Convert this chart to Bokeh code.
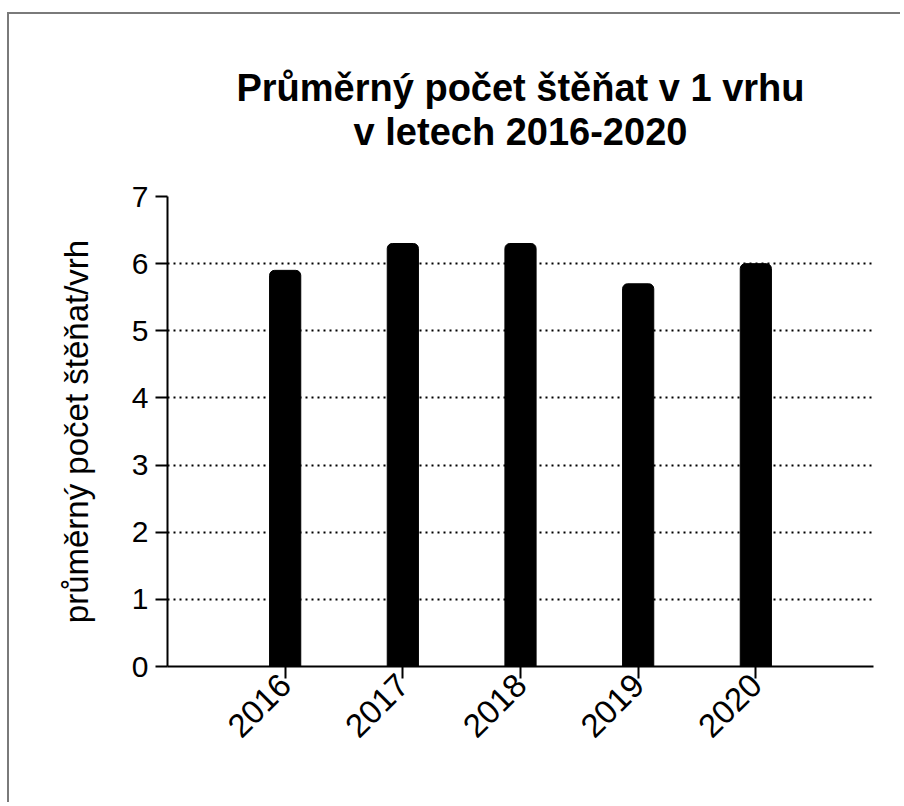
import math
from bokeh.plotting import figure
from bokeh.models import Range1d, FixedTicker, ColumnDataSource, Title
from bokeh.embed import file_html
from bokeh.resources import INLINE

years = [2016, 2017, 2018, 2019, 2020]
avg_pups = [5.9, 6.3, 6.3, 5.7, 6.0]
y_ticks = [0, 1, 2, 3, 4, 5, 6, 7]
title_line1 = "Průměrný počet štěňat v 1 vrhu"
title_line2 = "v letech 2016-2020"
y_label = "průměrný počet štěňat/vrh"

src = ColumnDataSource(data=dict(year=years, value=avg_pups))

p = figure(width=893, height=790,
           x_range=Range1d(2015, 2021), y_range=Range1d(0, 7),
           output_backend="svg", toolbar_location=None,
           min_border_left=158, min_border_right=29,
           min_border_top=182, min_border_bottom=138)
p.margin = (14, 0, 0, 9)
p.styles = {"box-shadow": "-2px -2px 0 0 #7a7a7a"}
p.outline_line_color = None
p.background_fill_color = "white"
p.border_fill_color = "white"

p.vbar(x="year", top="value", width=0.265, source=src,
       fill_color="black", line_color="black", border_radius=(5, 5, 0, 0))

def style_title(t, standoff, size="38px"):
    t.align = "center"
    t.text_font = "Liberation Sans"
    t.text_font_size = size
    t.text_font_style = "bold"
    t.text_color = "black"
    t.standoff = standoff

# outermost: first title line
p.title.text = title_line1
style_title(p.title, 0)
# spacer closest to the plot frame, then second title line
spacer = Title(text=" ")
style_title(spacer, 0)
p.add_layout(spacer, "above")
t2 = Title(text=title_line2)
style_title(t2, 0)
p.add_layout(t2, "above")

p.xgrid.visible = False
p.ygrid.ticker = FixedTicker(ticks=y_ticks)
p.ygrid.grid_line_color = "black"
p.ygrid.grid_line_width = 2
p.ygrid.grid_line_dash = "2 4"

for ax in (p.xaxis[0], p.yaxis[0]):
    ax.axis_line_width = 2
    ax.axis_line_color = "black"
    ax.major_tick_line_width = 2
    ax.major_tick_line_color = "black"
    ax.major_tick_in = 0
    ax.major_tick_out = 12
    ax.minor_tick_line_color = None
    ax.major_label_text_font = "Liberation Sans"
    ax.major_label_text_font_size = "30px"
    ax.major_label_text_color = "black"

p.xaxis.ticker = FixedTicker(ticks=years)
p.xaxis.major_label_orientation = math.pi / 4
p.xaxis.major_label_text_font_size = "33px"
p.xaxis.major_label_standoff = 1
p.yaxis.ticker = FixedTicker(ticks=y_ticks)
p.yaxis.major_label_standoff = 7
p.yaxis.axis_label = y_label
p.yaxis.axis_label_text_font = "Liberation Sans"
p.yaxis.axis_label_text_font_size = "33px"
p.yaxis.axis_label_text_font_style = "normal"
p.yaxis.axis_label_text_color = "black"
p.yaxis.axis_label_standoff = 34

open("out.html", "w").write(file_html(p, INLINE))
